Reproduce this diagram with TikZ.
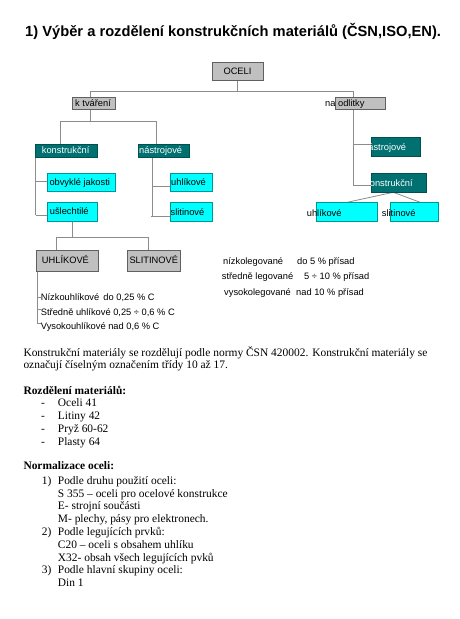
\documentclass[tikz,border=0pt]{standalone}
\usepackage{fontspec}
\setmainfont{Liberation Serif}
\newfontfamily\chartf{Liberation Sans}
\pgfdeclarelayer{bg}
\pgfdeclarelayer{paper}
\pgfsetlayers{paper,bg,main}
\definecolor{gfill}{RGB}{192,192,192}
\definecolor{gline}{RGB}{96,96,96}
\definecolor{tfill}{RGB}{0,112,112}
\definecolor{tline}{RGB}{0,80,80}
\definecolor{cfill}{RGB}{0,255,255}
\definecolor{cline}{RGB}{0,150,150}
\definecolor{lnc}{RGB}{140,140,140}
\tikzset{
 box/.style={draw, inner sep=0pt, outer sep=0pt, line width=0.8pt},
 gbox/.style={box, fill=gfill, draw=gline},
 tbox/.style={box, fill=tfill, draw=tline},
 cbox/.style={box, fill=cfill, draw=cline},
 ctext/.style={font=\chartf\fontsize{9.3}{10}\selectfont, inner sep=0pt, anchor=west, text height=6.7pt, text depth=0pt},
 wtext/.style={ctext, text=white},
 ttl/.style={font=\chartf\bfseries\fontsize{14.7}{16}\selectfont, inner sep=0pt, anchor=base west},
 body/.style={font=\fontsize{11.45}{12.8}\selectfont, inner sep=0pt, anchor=base west},
 bodyb/.style={body, font=\bfseries\fontsize{11.45}{12.8}\selectfont},
 ln/.style={draw=lnc, line width=0.8pt},
}
\begin{document}
\begin{tikzpicture}[x=1pt,y=-1pt]
\begin{pgfonlayer}{paper}
\fill[white] (0,0) rectangle (459,619);
\end{pgfonlayer}
\useasboundingbox (0,0) rectangle (459,619);

% title
\node[ttl] (title) at (25,36) {1) Výběr a rozdělení konstrukčních materiálů (ČSN,ISO,EN).};

% ---- boxes ----
\node[gbox, minimum width=51pt, minimum height=18pt, font=\chartf\fontsize{9.3}{10}\selectfont] (oceli) at (237.5,71) {OCELI};
\node[gbox, minimum width=43pt, minimum height=12pt] (ktv) at (93.5,103) {};
\node[ctext] (ktvt) at (75,103) {k tváření};
\node[gbox, minimum width=50pt, minimum height=12pt] (naodl) at (360,103) {};
\node[ctext] (naodlt) at (325,103) {na odlitky};

\node[tbox, minimum width=62pt, minimum height=13pt] (kon1) at (66,150.5) {};
\node[wtext] (kon1t) at (41.7,150.5) {konstrukční};
\node[tbox, minimum width=51pt, minimum height=13pt] (nas1) at (163.5,150.5) {};
\node[wtext] (nas1t) at (139,150.5) {nástrojové};

\node[cbox, minimum width=68pt, minimum height=18.7pt] (obv) at (81.7,182.3) {};
\node[ctext] (obvt) at (49.3,182.3) {obvyklé jakosti};
\node[cbox, minimum width=49.6pt, minimum height=19pt] (usl) at (72.5,211.5) {};
\node[ctext] (uslt) at (49.7,211.5) {ušlechtilé};
\node[cbox, minimum width=42.7pt, minimum height=18.7pt] (uhl1) at (191.3,182.3) {};
\node[ctext] (uhl1t) at (171,182.3) {uhlíkové};
\node[cbox, minimum width=42.7pt, minimum height=19pt] (sli1) at (191.3,212.2) {};
\node[ctext] (sli1t) at (170.5,212.2) {slitinové};

\node[gbox, minimum width=62pt, minimum height=21pt] (UHL) at (67,260.5) {};
\node[ctext] (UHLt) at (41.7,260.5) {UHLÍKOVÉ};
\node[gbox, minimum width=53.4pt, minimum height=21pt] (SLI) at (154,260.5) {};
\node[ctext] (SLIt) at (129.3,260.5) {SLITINOVÉ};

\node[tbox, minimum width=49pt, minimum height=19pt] (nas2) at (396.2,147.2) {};
\begin{scope}
\clip (nas2.south west) rectangle (nas2.north east);
\node[wtext] (nas2t) at (363,147.2) {nástrojové};
\end{scope}
\node[tbox, minimum width=55pt, minimum height=19pt] (kon2) at (399.2,182.8) {};
\begin{scope}
\clip (kon2.south west) rectangle (kon2.north east);
\node[wtext] (kon2t) at (365,182.8) {konstrukční};
\end{scope}
\node[cbox, minimum width=61pt, minimum height=19.4pt] (uhl2) at (347.2,212) {};
\node[ctext] (uhl2t) at (306.7,213) {uhlíkové};
\node[cbox, minimum width=48.3pt, minimum height=19.4pt] (sli2) at (414.2,212) {};
\node[ctext] (sli2t) at (381.7,213) {slitinové};

% ---- texts below UHLIKOVE ----
\node[ctext] (n1) at (40.7,297) {Nízkouhlíkové\, do 0,25 \% C};
\node[ctext] (n2) at (40.7,312) {Středně uhlíkové 0,25 ÷ 0,6 \% C};
\node[ctext] (n3) at (40.7,326.5) {Vysokouhlíkové nad 0,6 \% C};

% ---- legovane table ----
\node[ctext] (l1a) at (223,261) {nízkolegované};
\node[ctext] (l1b) at (297,261) {do 5 \% přísad};
\node[ctext] (l2a) at (221.7,276.5) {středně legované};
\node[ctext] (l2b) at (304,276.5) {5 ÷ 10 \% přísad};
\node[ctext] (l3a) at (224,292) {vysokolegované};
\node[ctext] (l3b) at (296,292) {nad 10 \% přísad};

% ---- connectors ----
\begin{pgfonlayer}{bg}
\coordinate (jl) at (90.7,91);
\coordinate (jr) at (353,91);
\draw[ln] (oceli.south) -- (oceli.south |- jl);
\draw[ln] (jl) -- (jr);
\draw[ln] (jl) -- (jl |- ktv.north);
\draw[ln] (jr) -- (353,185) coordinate (jr2);
\draw[ln] (353,144.3) -- (nas2.west |- 353,144.3);
\draw[ln] (jr2) -- (kon2.west |- jr2);
\draw[ln] ([xshift=-6pt]kon2.south) -- (uhl2.north);
\draw[ln] ([xshift=-6pt]kon2.south) -- ([xshift=6pt]sli2.north);

\coordinate (k1) at (60,121);
\coordinate (k2) at (156.7,121);
\draw[ln] (jl |- ktv.south) -- (jl |- k1);
\draw[ln] (k1) -- (k2);
\draw[ln] (k1) -- (k1 |- kon1.north);
\draw[ln] (k2) -- (k2 |- nas1.north);

\draw[ln] (35.7,157) -- (35.7,215);
\draw[ln] (35.7,181) -- (obv.west |- 35.7,181);
\draw[ln] (35.7,215) -- (usl.west |- 35.7,215);

\draw[ln] (152,157) -- (152,216);
\draw[ln] (152,186) -- (uhl1.west |- 152,186);
\draw[ln] (151,216) -- (sli1.west |- 152,216);

\coordinate (u1) at (56.7,237);
\coordinate (u2) at (148,237);
\draw[ln] (usl.south) -- (usl.south |- u1);
\draw[ln] (u1) -- (u2);
\draw[ln] (u1) -- (u1 |- UHL.north);
\draw[ln] (u2) -- (u2 |- SLI.north);

\draw[ln] (37.3,271) -- (37.3,323.5);
\draw[ln] (37.3,297) -- (n1.west);
\draw[ln] (37.3,309) -- (40.7,309);
\draw[ln] (37.3,323.5) -- (40.7,323.5);
\end{pgfonlayer}

% ---- body text ----
\node[body] (p1) at (23.3,356) {Konstrukční materiály se rozdělují podle normy ČSN 420002. Konstrukční materiály se};
\node[body] (p2) at (23.3,368.5) {označují číselným označením třídy 10 až 17.};

\node[bodyb] (h1) at (23.3,394) {Rozdělení materiálů:};
\node[body] (d1) at (41,406) {-};
\node[body] (i1) at (57.7,406) {Oceli 41};
\node[body] (d2) at (41,419) {-};
\node[body] (i2) at (57.7,419) {Litiny 42};
\node[body] (d3) at (41,432) {-};
\node[body] (i3) at (57.7,432) {Pryž 60-62};
\node[body] (d4) at (41,445) {-};
\node[body] (i4) at (57.7,445) {Plasty 64};

\node[bodyb] (h2) at (23.3,469.5) {Normalizace oceli:};
\node[body] (e1) at (41.7,484.2) {1)};
\node[body] (t1) at (57.7,484.2) {Podle druhu použití oceli:};
\node[body] (t2) at (57.7,497) {S 355 – oceli pro ocelové konstrukce};
\node[body] (t3) at (57.7,509.8) {E- strojní součásti};
\node[body] (t4) at (57.7,522.6) {M- plechy, pásy pro elektronech.};
\node[body] (e2) at (41.7,535.4) {2)};
\node[body] (t5) at (57.7,535.4) {Podle legujících prvků:};
\node[body] (t6) at (57.7,548.2) {C20 – oceli s obsahem uhlíku};
\node[body] (t7) at (57.7,561) {X32- obsah všech legujících pvků};
\node[body] (e3) at (41.7,573.8) {3)};
\node[body] (t8) at (57.7,573.8) {Podle hlavní skupiny oceli:};
\node[body] (t9) at (57.7,586.8) {Din 1};
\end{tikzpicture}
\end{document}
